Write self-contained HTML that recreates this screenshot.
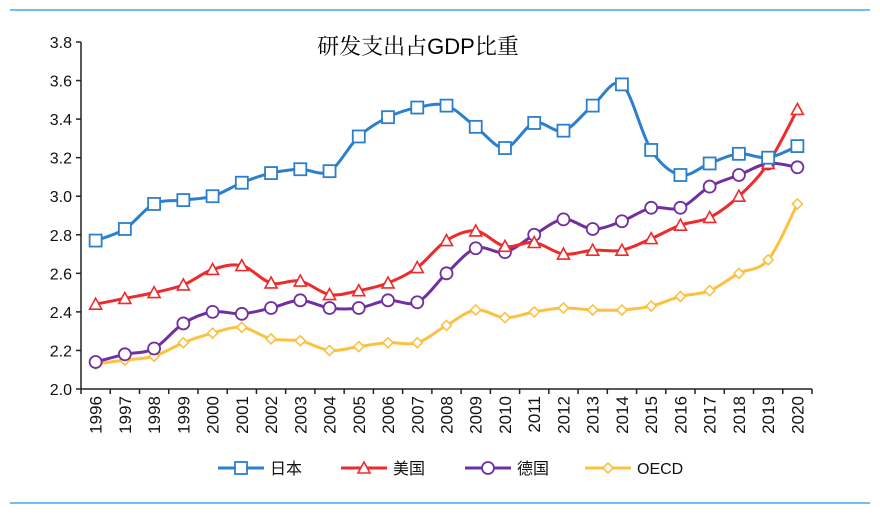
<!DOCTYPE html>
<html><head><meta charset="utf-8"><style>
body{margin:0;background:#fff;width:880px;height:512px;overflow:hidden}
svg text{font-family:"Liberation Sans","Noto Sans CJK SC",sans-serif}
</style></head><body>
<svg id="chart" width="880" height="512">
<line x1="10" y1="10" x2="870" y2="10" stroke="#3fa9f5" stroke-width="1.5"/>
<line x1="10" y1="503" x2="870" y2="503" stroke="#3fa9f5" stroke-width="1.5"/>
<text x="418" y="54" font-size="22" text-anchor="middle" style="font-family:'Liberation Sans','Noto Serif CJK SC',serif">研发支出占GDP比重</text>
<g id="axes"></g><g id="series"></g><g id="legend"></g>
</svg>
<script>
const years=["1996","1997","1998","1999","2000","2001","2002","2003","2004","2005","2006","2007","2008","2009","2010","2011","2012","2013","2014","2015","2016","2017","2018","2019","2020"];
const yTicks=[2.0,2.2,2.4,2.6,2.8,3.0,3.2,3.4,3.6,3.8];
const japan=[2.77,2.83,2.96,2.98,3.00,3.07,3.12,3.14,3.13,3.31,3.41,3.46,3.47,3.36,3.25,3.38,3.34,3.47,3.58,3.24,3.11,3.17,3.22,3.20,3.26];
const usa=[2.44,2.47,2.50,2.54,2.62,2.64,2.55,2.56,2.49,2.51,2.55,2.63,2.77,2.82,2.74,2.76,2.70,2.72,2.72,2.78,2.85,2.89,3.00,3.17,3.45];
const germany=[2.14,2.18,2.21,2.34,2.40,2.39,2.42,2.46,2.42,2.42,2.46,2.45,2.60,2.73,2.71,2.80,2.88,2.83,2.87,2.94,2.94,3.05,3.11,3.17,3.15];
const oecd=[2.13,2.15,2.17,2.24,2.29,2.32,2.26,2.25,2.20,2.22,2.24,2.24,2.33,2.41,2.37,2.40,2.42,2.41,2.41,2.43,2.48,2.51,2.60,2.67,2.96];
const X0=81,X1=812,Y0=389,Y1=42,ymin=2.0,ymax=3.8;
const bw=(X1-X0)/years.length;
const xs=i=>X0+bw*(i+0.5);
const ys=v=>Y0-(v-ymin)/(ymax-ymin)*(Y0-Y1);
const NS="http://www.w3.org/2000/svg";
function mk(t,a,p){const e=document.createElementNS(NS,t);for(const k in a)e.setAttribute(k,a[k]);p.appendChild(e);return e;}
const ax=document.getElementById('axes');
let yl=mk('line',{x1:X0,y1:Y1,x2:X0,y2:Y0,stroke:'#222','stroke-width':1.5},ax);


let xl=mk('line',{x1:X0,y1:Y0,x2:X1,y2:Y0,stroke:'#222','stroke-width':1.5},ax);


yTicks.forEach(v=>{const y=ys(v);
 mk('line',{x1:X0-5,y1:y,x2:X0,y2:y,stroke:'#222','stroke-width':1.5},ax);
 const t=mk('text',{x:X0-9,y:y+6,'font-size':16,'text-anchor':'end',fill:'#111'},ax);t.textContent=v.toFixed(1);
 
 });
for(let i=0;i<=years.length;i++){const x=X0+bw*i;mk('line',{x1:x,y1:Y0,x2:x,y2:Y0+5,stroke:'#222','stroke-width':1.5},ax);}
years.forEach((yr,i)=>{const x=xs(i)+6;
 const t=mk('text',{x:x,y:Y0+7,'font-size':17,'text-anchor':'end',fill:'#111',transform:`rotate(-90 ${x} ${Y0+7})`},ax);t.textContent=yr;
 
 });
function path(vals){const p=vals.map((v,i)=>[xs(i),ys(v)]);let d=`M${p[0][0]},${p[0][1]}`;const k=1/6;
 for(let i=0;i<p.length-1;i++){const a=p[i-1]||p[i],b=p[i],c=p[i+1],e=p[i+2]||c;
 d+=` C${b[0]+(c[0]-a[0])*k},${b[1]+(c[1]-a[1])*k} ${c[0]-(e[0]-b[0])*k},${c[1]-(e[1]-b[1])*k} ${c[0]},${c[1]}`;}return d;}
function marker(type,x,y,col,g){
 if(type==='sq')return mk('rect',{x:x-6,y:y-6,width:12,height:12,fill:'#fff',stroke:col,'stroke-width':1.8},g);
 if(type==='tri')return mk('polygon',{points:`${x},${y-6} ${x-6},${y+5} ${x+6},${y+5}`,fill:'#fff',stroke:col,'stroke-width':1.6},g);
 if(type==='ci')return mk('circle',{cx:x,cy:y,r:6,fill:'#fff',stroke:col,'stroke-width':1.8},g);
 return mk('polygon',{points:`${x},${y-5} ${x+5},${y} ${x},${y+5} ${x-5},${y}`,fill:'#fff',stroke:col,'stroke-width':1.6},g);}
const S=document.getElementById('series');
const defs=[['japan',japan,'#2c7fcc','sq','日本'],['usa',usa,'#ee2a2a','tri','美国'],['germany',germany,'#7030a0','ci','德国'],['oecd',oecd,'#fbc140','di','OECD']];
defs.slice().reverse().forEach(([n,vals,col,m])=>{const g=mk('g',{},S);
 
 
 mk('path',{d:path(vals),fill:'none',stroke:col,'stroke-width':3},g);
 vals.forEach((v,i)=>{const mm=marker(m,xs(i),ys(v),col,g);
  
  });});
const L=document.getElementById('legend');
const lx=[218,341,465,585];
defs.forEach(([n,v,col,m,lab],i)=>{const g=mk('g',{},L);
 
 
 const x=lx[i],y=468;
 mk('line',{x1:x,y1:y,x2:x+46,y2:y,stroke:col,'stroke-width':3},g);
 marker(m,x+23,y,col,g);
 const t=mk('text',{x:x+52,y:y+6,'font-size':16,fill:'#111'},g);t.textContent=lab;});
</script>
</body></html>
